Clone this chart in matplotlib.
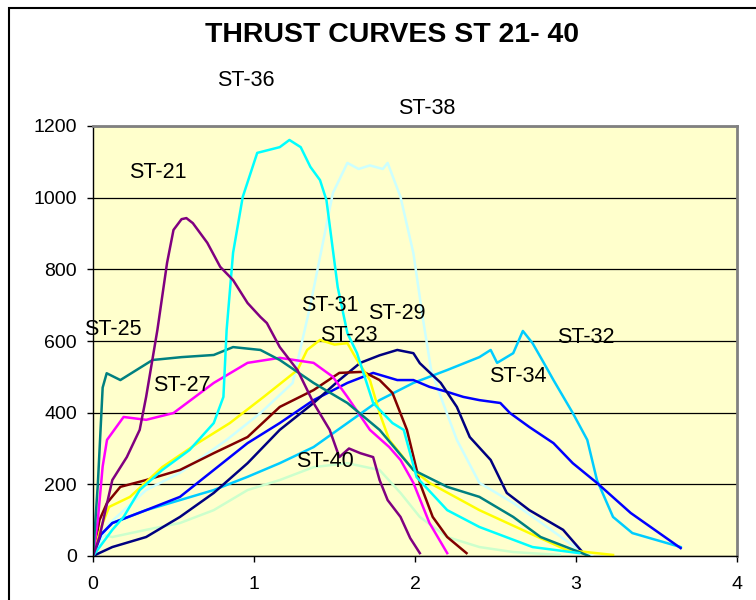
import matplotlib
matplotlib.use("Agg")
import matplotlib.pyplot as plt
from matplotlib.patches import Rectangle

plt.rcParams['font.family'] = ['Liberation Sans', 'DejaVu Sans']

title = "THRUST CURVES ST 21- 40"

# ---- data (time s, thrust) ----
st21_x = [0.0, 0.04, 0.12, 0.21, 0.29, 0.33, 0.40, 0.46, 0.50, 0.55, 0.58, 0.62, 0.71, 0.79, 0.87, 0.96, 1.04, 1.08, 1.16, 1.27, 1.37, 1.47, 1.53, 1.59, 1.66, 1.74, 1.78, 1.83, 1.91, 1.97, 2.03]
st21_y = [0, 53, 212, 276, 352, 444, 631, 818, 910, 940, 943, 929, 874, 807, 770, 706, 667, 650, 583, 519, 427, 352, 276, 300, 287, 276, 212, 156, 109, 50, 8]

st23_x = [0.0, 0.05, 0.10, 0.23, 0.43, 0.65, 0.85, 1.06, 1.27, 1.33, 1.41, 1.50, 1.58, 1.64, 1.72, 1.78, 1.84, 1.99, 2.09, 2.40, 2.71, 2.94, 3.23]
st23_y = [0, 80, 137, 165, 248, 315, 371, 444, 519, 575, 603, 590, 594, 547, 491, 399, 324, 240, 204, 128, 64, 17, 3]

st25_x = [0.0, 0.03, 0.06, 0.085, 0.17, 0.37, 0.55, 0.75, 0.87, 1.04, 1.16, 1.37, 1.58, 1.78, 1.99, 2.20, 2.40, 2.61, 2.78, 3.02, 3.08]
st25_y = [0, 200, 470, 510, 491, 547, 555, 561, 583, 575, 547, 483, 427, 352, 240, 193, 165, 109, 53, 11, 0]

st27_x = [0.0, 0.03, 0.06, 0.087, 0.19, 0.33, 0.50, 0.75, 0.96, 1.16, 1.37, 1.49, 1.58, 1.72, 1.84, 1.91, 1.99, 2.09, 2.20]
st27_y = [0, 100, 250, 324, 388, 380, 399, 483, 539, 553, 539, 500, 444, 352, 304, 268, 204, 92, 8]

st29_x = [0.0, 0.12, 0.33, 0.54, 0.75, 0.96, 1.16, 1.37, 1.53, 1.66, 1.78, 1.89, 1.99, 2.03, 2.16, 2.26, 2.34, 2.47, 2.57, 2.71, 2.92, 3.04]
st29_y = [0, 25, 53, 109, 176, 259, 352, 427, 491, 539, 560, 575, 566, 538, 483, 416, 332, 268, 176, 128, 73, 11]

st31_x = [0.0, 0.04, 0.087, 0.17, 0.33, 0.54, 0.75, 0.96, 1.16, 1.37, 1.53, 1.68, 1.78, 1.86, 1.95, 2.03, 2.11, 2.20, 2.32]
st31_y = [0, 100, 148, 193, 212, 240, 287, 332, 416, 463, 511, 514, 491, 455, 352, 204, 109, 53, 8]

st32_x = [0.0, 0.05, 0.12, 0.33, 0.54, 0.75, 0.96, 1.16, 1.37, 1.58, 1.78, 1.99, 2.20, 2.40, 2.47, 2.51, 2.61, 2.67, 2.73, 2.80, 2.86, 2.98, 3.07, 3.13, 3.23, 3.35, 3.65]
st32_y = [0, 60, 92, 128, 156, 184, 221, 259, 304, 371, 435, 483, 519, 555, 575, 539, 566, 628, 594, 539, 491, 399, 324, 212, 109, 64, 25]

st34_x = [0.0, 0.05, 0.12, 0.33, 0.54, 0.75, 0.96, 1.16, 1.37, 1.58, 1.74, 1.89, 1.99, 2.09, 2.20, 2.30, 2.40, 2.53, 2.59, 2.71, 2.86, 2.98, 3.13, 3.34, 3.65]
st34_y = [0, 60, 92, 128, 165, 240, 315, 371, 435, 483, 511, 491, 491, 472, 458, 444, 435, 427, 399, 360, 315, 259, 204, 120, 22]

st36_x = [0.0, 0.12, 0.19, 0.29, 0.43, 0.60, 0.75, 0.81, 0.83, 0.87, 0.93, 1.02, 1.16, 1.22, 1.29, 1.35, 1.41, 1.45, 1.52, 1.58, 1.64, 1.74, 1.86, 1.93, 2.01, 2.20, 2.40, 2.73, 3.02]
st36_y = [0, 73, 109, 184, 240, 296, 371, 444, 631, 846, 1002, 1125, 1141, 1161, 1141, 1086, 1049, 993, 750, 622, 566, 427, 371, 352, 220, 128, 81, 25, 8]

st38_x = [0.0, 0.10, 0.33, 0.54, 0.83, 1.04, 1.24, 1.35, 1.49, 1.58, 1.65, 1.72, 1.80, 1.83, 1.91, 1.99, 2.05, 2.10, 2.16, 2.26, 2.40, 2.61, 2.82, 3.02, 3.10]
st38_y = [0, 90, 184, 232, 324, 399, 483, 700, 1013, 1097, 1080, 1090, 1080, 1097, 1002, 845, 660, 520, 444, 324, 204, 148, 81, 17, 0]

st40_x = [0.0, 0.05, 0.12, 0.33, 0.54, 0.75, 0.96, 1.16, 1.37, 1.58, 1.78, 1.91, 2.03, 2.20, 2.40, 2.61, 2.90]
st40_y = [0, 60, 53, 73, 92, 128, 184, 212, 248, 259, 240, 176, 109, 53, 25, 11, 3]

series = [
    ("ST-40", st40_x, st40_y, "#CCFFCC"),
    ("ST-38", st38_x, st38_y, "#CCFFFF"),
    ("ST-32", st32_x, st32_y, "#00CCFF"),
    ("ST-34", st34_x, st34_y, "#0000FF"),
    ("ST-29", st29_x, st29_y, "#000080"),
    ("ST-31", st31_x, st31_y, "#800000"),
    ("ST-23", st23_x, st23_y, "#FFFF00"),
    ("ST-27", st27_x, st27_y, "#FF00FF"),
    ("ST-25", st25_x, st25_y, "#008080"),
    ("ST-36", st36_x, st36_y, "#00FFFF"),
    ("ST-21", st21_x, st21_y, "#800080"),
]

labels = ["ST-36", "ST-38", "ST-21", "ST-25", "ST-27", "ST-31", "ST-29", "ST-23", "ST-32", "ST-34", "ST-40"]
label_x = [0.95, 2.07, 0.40, 0.12, 0.55, 1.47, 1.89, 1.59, 3.06, 2.64, 1.44]
label_y = [1328, 1250, 1069, 633, 477, 698, 678, 614, 611, 500, 265]

fig = plt.figure(figsize=(7.56, 6.0), dpi=100)
fig.patch.set_facecolor("white")
fig.patches.append(Rectangle((8.5/756, -0.05), 1.2, (600-7.5)/600 + 0.05, transform=fig.transFigure,
                             fill=False, edgecolor="black", linewidth=1.5, zorder=0))

ax = fig.add_axes([93/756, 44/600, 644/756, 430/600])
ax.set_facecolor("#FFFFCC")

for name, xs, ys, c in series:
    ax.plot(xs, ys, color=c, linewidth=1.8, solid_joinstyle="round")

ax.set_xlim(0, 4)
ax.set_ylim(0, 1200)
ax.set_xticks([0, 1, 2, 3, 4])
ax.set_yticks([0, 200, 400, 600, 800, 1000, 1200])
ax.yaxis.grid(True, color="black", linewidth=0.9)
ax.set_axisbelow(True)

for s in ["top", "right"]:
    ax.spines[s].set_color("#808080")
    ax.spines[s].set_linewidth(2)
for s in ["left", "bottom"]:
    ax.spines[s].set_color("black")
    ax.spines[s].set_linewidth(1)

ax.tick_params(axis="both", direction="out", length=4.5, width=1, labelsize=14, colors="black")
ax.tick_params(axis="x", pad=10)
ax.tick_params(axis="y", pad=7)

for t, x, y in zip(labels, label_x, label_y):
    ax.text(x, y, t, ha="center", va="center", fontsize=15.5, color="black", clip_on=False)

fig.text(392/756, 1 - 35/600, title, ha="center", va="center", fontsize=20.5, fontweight="bold")

fig.savefig("out.png", dpi=100)
